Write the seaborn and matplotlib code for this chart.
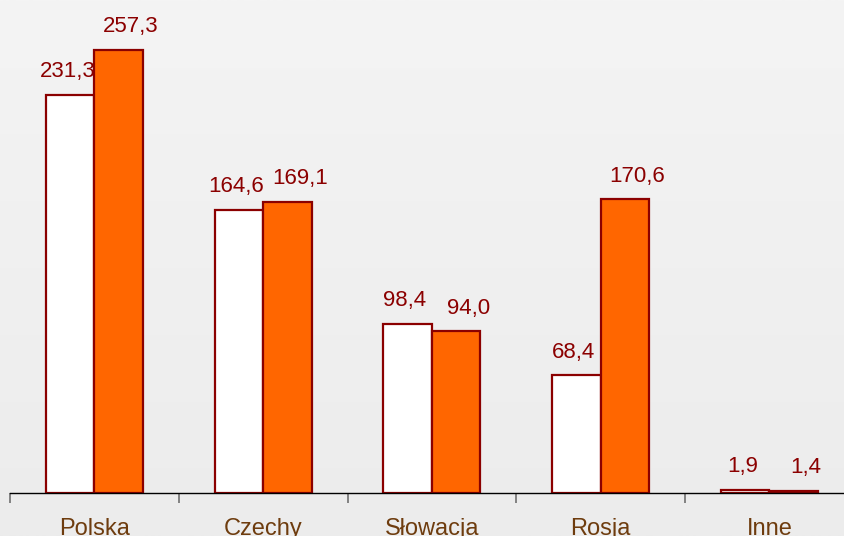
import matplotlib
matplotlib.use("Agg")
import matplotlib.pyplot as plt
import seaborn as sns
import pandas as pd
import numpy as np

categories = ["Polska", "Czechy", "Słowacja", "Rosja", "Inne"]
series_names = ["2008", "2009"]
values_a = [231.3, 164.6, 98.4, 68.4, 1.9]
values_b = [257.3, 169.1, 94.0, 170.6, 1.4]

df = pd.DataFrame({
    "kraj": categories * 2,
    "seria": [series_names[0]] * len(categories) + [series_names[1]] * len(categories),
    "wartosc": values_a + values_b,
})

sns.set_theme(style="white")
plt.rcParams["font.family"] = ["Liberation Sans", "DejaVu Sans"]

fig = plt.figure(figsize=(8.45, 5.36), dpi=100)
fig.patch.set_facecolor("#f1f1f1")

# subtle vertical gradient background
bg = fig.add_axes([0, 0, 1, 1], zorder=-10)
grad = np.linspace(0, 1, 256).reshape(-1, 1)
bg.imshow(grad, aspect="auto",
          cmap=matplotlib.colors.LinearSegmentedColormap.from_list("g", ["#f4f4f4", "#ececec"]),
          extent=[0, 1, 0, 1], origin="upper")
bg.axis("off")

ax = fig.add_axes([10 / 845, 43 / 536, 843.75 / 845, 493 / 536])
ax.set_facecolor("none")

sns.barplot(data=df, x="kraj", y="wartosc", hue="seria", order=categories,
            hue_order=series_names, palette=["#ffffff", "#ff6600"], saturation=1,
            width=0.575, edgecolor="#8b0000", linewidth=1.6, legend=False, ax=ax)

ax.set_ylim(0, 493 / 1.722)
ax.set_xlim(-0.5, len(categories) - 0.5)

# label horizontal nudges (points) per series
nudges = [-2, 9]
for cont, dx in zip(ax.containers, nudges):
    for rect, v in zip(cont.patches, cont.datavalues):
        ax.annotate(f"{v:.1f}".replace(".", ","),
                    xy=(rect.get_x() + rect.get_width() / 2, rect.get_height()),
                    xytext=(dx, 9), textcoords="offset points",
                    ha="center", va="bottom", color="#8b0000", fontsize=16)

for s in ["top", "right", "left"]:
    ax.spines[s].set_visible(False)
ax.spines["bottom"].set_color("#000000")
ax.spines["bottom"].set_linewidth(1.0)

ax.set_yticks([])
ax.set_xlabel("")
ax.set_ylabel("")
ax.set_xticks(range(len(categories)))
ax.set_xticklabels(categories, color="#6e3c0e", fontsize=17)
ax.tick_params(axis="x", which="major", bottom=True, length=0, pad=18)
ax.set_xticks(np.arange(-0.5, len(categories), 1.0), minor=True)
ax.tick_params(axis="x", which="minor", bottom=True, length=7, width=1.2,
               color="#707070", direction="out")

fig.savefig("out.png", dpi=100, facecolor=fig.get_facecolor())
